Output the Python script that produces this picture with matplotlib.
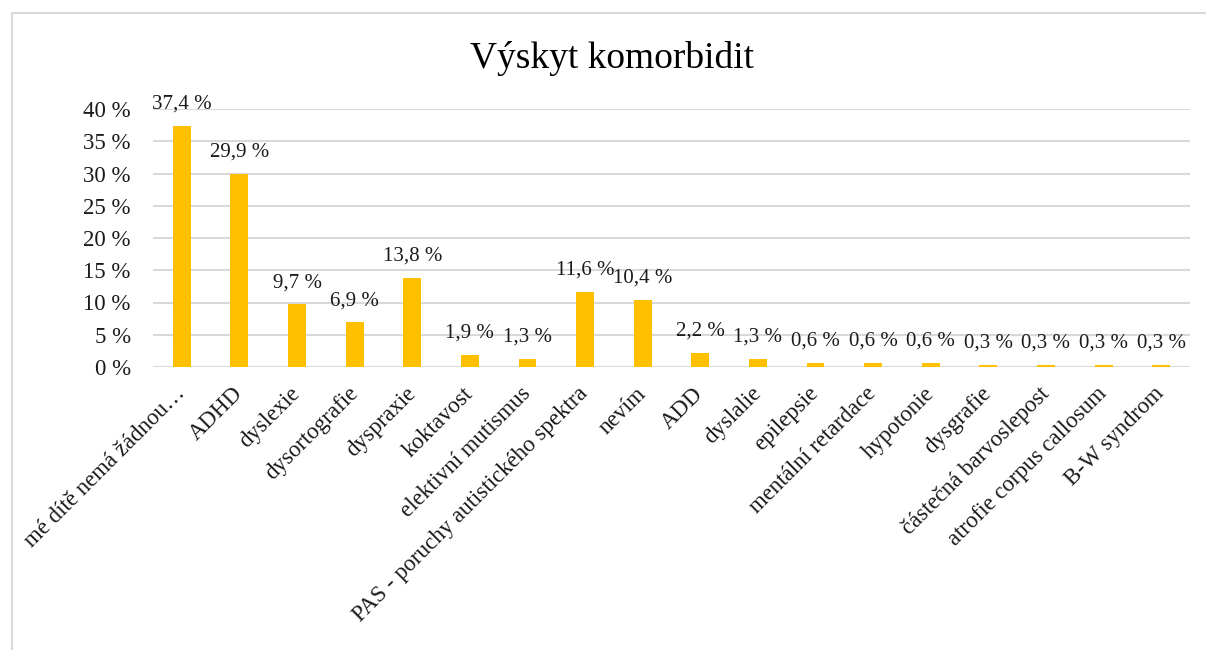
import matplotlib.pyplot as plt
from matplotlib.patches import Rectangle

categories = [
    "mé dítě nemá žádnou…", "ADHD", "dyslexie", "dysortografie", "dyspraxie",
    "koktavost", "elektivní mutismus", "PAS - poruchy autistického spektra",
    "nevím", "ADD", "dyslalie", "epilepsie", "mentální retardace", "hypotonie",
    "dysgrafie", "částečná barvoslepost", "atrofie corpus callosum", "B-W syndrom",
]
values = [37.4, 29.9, 9.7, 6.9, 13.8, 1.9, 1.3, 11.6, 10.4, 2.2, 1.3,
          0.6, 0.6, 0.6, 0.3, 0.3, 0.3, 0.3]
yticks = [0, 5, 10, 15, 20, 25, 30, 35, 40]

W, H = 1206, 650
plt.rcParams["font.family"] = ["Liberation Serif", "DejaVu Serif"]

fig = plt.figure(figsize=(W / 100, H / 100), dpi=100)
# axes box in pixels: left 153, right 1190, top 109 (40 %), bottom 367 (0 %)
ax = fig.add_axes([153 / W, 1 - 367 / H, (1190 - 153) / W, (367 - 109) / H])

# chart frame (runs off the right and bottom edges)
fig.patches.append(Rectangle((12 / W, -0.05), 1.2, 1 - 13 / H + 0.05,
                             transform=fig.transFigure, fill=False,
                             edgecolor="#D9D9D9", linewidth=1.5))

x = list(range(len(categories)))
ax.bar(x, values, width=0.31, color="#FFC000", zorder=3)

for xi, v in zip(x, values):
    ax.annotate(f"{v:.1f} %".replace(".", ","), (xi, v), xytext=(0, 12.5),
                textcoords="offset points", ha="center", va="baseline",
                fontsize=15, color="#1a1a1a")

ax.set_xlim(-0.5, len(categories) - 0.5)
ax.set_ylim(0, 40)
ax.set_yticks(yticks)
ax.set_yticklabels([f"{t} %" for t in yticks], fontsize=16.5, color="#1a1a1a")
ax.yaxis.grid(True, color="#D9D9D9", linewidth=1.5, zorder=0)
ax.set_axisbelow(True)
for s in ax.spines.values():
    s.set_visible(False)
ax.tick_params(axis="both", length=0)
ax.tick_params(axis="y", pad=16)

ax.set_xticks(x)
ax.set_xticklabels(categories, rotation=45, ha="right", va="center",
                   rotation_mode="anchor", fontsize=16.5, color="#1a1a1a")
ax.tick_params(axis="x", pad=17)

fig.text(612 / W, 1 - 59 / H, "Výskyt komorbidit", ha="center", va="center",
         fontsize=27, color="#000000")

fig.savefig("out.png", dpi=100)
